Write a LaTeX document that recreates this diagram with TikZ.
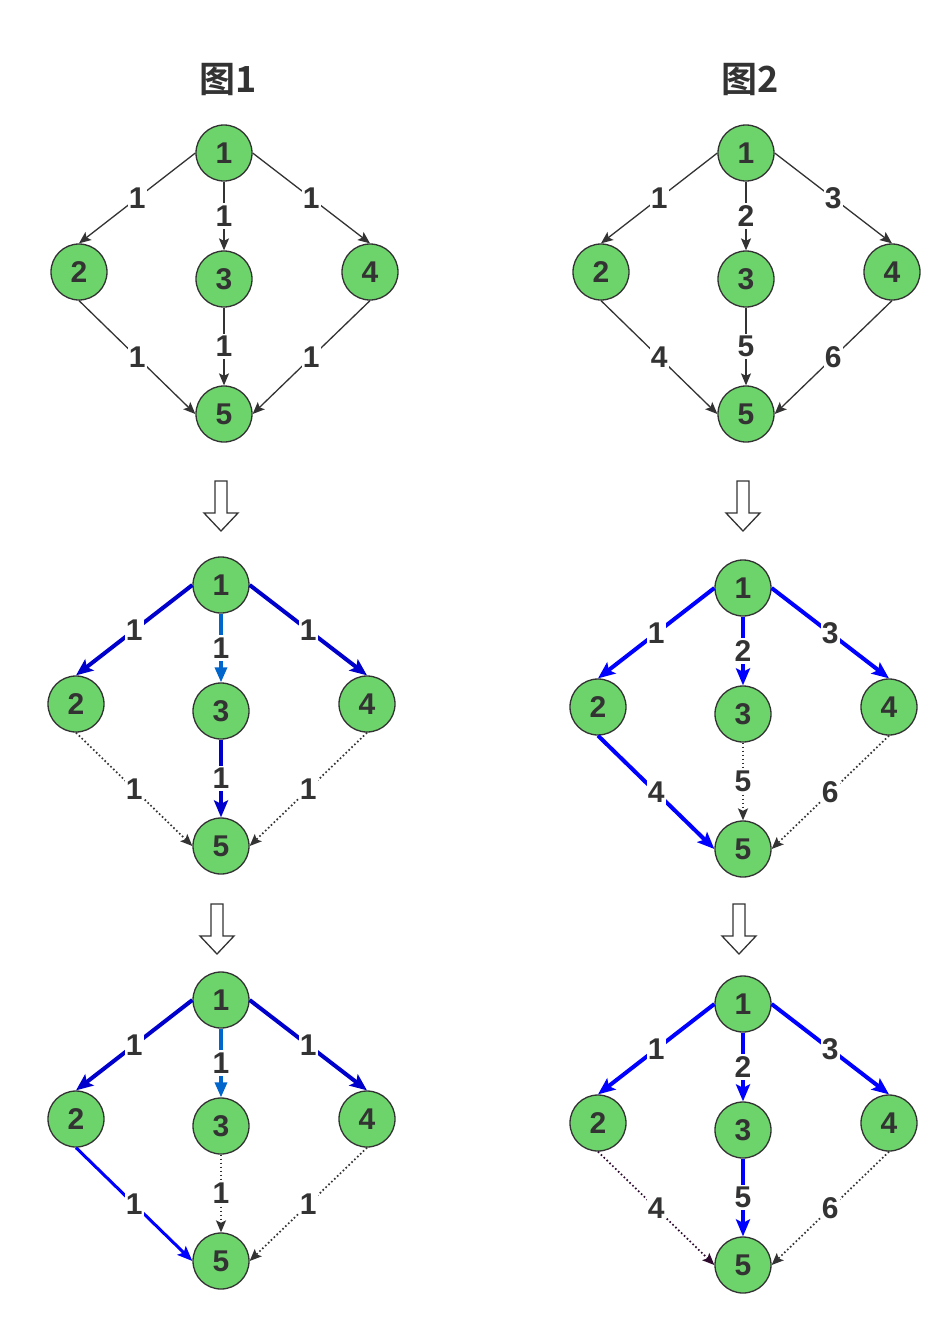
\documentclass[tikz,border=0pt]{standalone}
\usepackage{fontspec}
\setmainfont{Liberation Sans}
\newfontfamily\cjkb{Noto Sans CJK SC Bold}
\usetikzlibrary{arrows.meta}

\definecolor{ink}{HTML}{333333}
\definecolor{leaf}{HTML}{6CD46A}
\definecolor{navy}{HTML}{0000CC}
\definecolor{sky}{HTML}{0066CC}
\definecolor{pureblue}{HTML}{0000FF}
\definecolor{plum}{HTML}{2E0A2E}

\tikzset{
  vtx/.style={circle, draw=ink, line width=1.3pt, fill=leaf, minimum size=56pt,
    inner sep=0pt, text=ink, font=\fontsize{30}{30}\selectfont\bfseries},
  lbl/.style={midway, fill=white, inner xsep=1pt, inner ysep=2.5pt, text=ink,
    font=\fontsize{30}{30}\selectfont\bfseries},
  plainedge/.style={draw=ink, line width=1.3pt,
    -{Stealth[length=12pt, width=10pt, inset=2.5pt]}},
  dotedge/.style={plainedge, line width=1.7pt, dash pattern=on 1.6pt off 2.4pt},
  navyedge/.style={draw=navy, line width=4pt,
    -{Stealth[length=17pt, width=14pt, inset=3.5pt]}},
  skyedge/.style={draw=sky, line width=3.3pt,
    -{Stealth[length=15pt, width=12pt, inset=0pt]}},
  blueedge/.style={draw=pureblue, line width=4pt,
    -{Stealth[length=17pt, width=14pt, inset=3.5pt]}},
  midblueedge/.style={draw=pureblue, line width=3pt,
    -{Stealth[length=15pt, width=12pt, inset=3pt]}},
  title/.style={text=ink, font=\cjkb\fontsize{36}{36}\selectfont},
}

% five vertices of one graph, placed relative to vertex 1
\newcommand\fivevertices[3]{%
  \node[vtx] (#11) at (#2,#3) {1};
  \node[vtx] (#12) at ({#2-145},{#3+119}) {2};
  \node[vtx] (#13) at (#2,{#3+126}) {3};
  \node[vtx] (#14) at ({#2+146},{#3+119}) {4};
  \node[vtx] (#15) at (#2,{#3+261}) {5};
}

% hollow downward block arrow, given its centre x and top y
\newcommand\hollowdown[2]{%
  \draw[ink, line width=1.3pt, fill=white, line join=miter]
    ({#1-6},#2) -- ++(12,0) -- ++(0,32) -- ++(11,0) -- ++(-17,18)
    -- ++(-17,-18) -- ++(11,0) -- cycle;
}

\begin{document}
\begin{tikzpicture}[x=1pt, y=-1pt]
\useasboundingbox (0,0) rectangle (952,1326);
\fill[white] (0,0) rectangle (952,1326);

\node[title] (ta) at (228,80) {图1};
\node[title] (tb) at (750,80) {图2};

% ---- first row
\fivevertices{a}{224}{153}
\draw[plainedge] (a1.west)  -- node[lbl]{1} (a2.north);
\draw[plainedge] (a1.south) -- node[lbl]{1} (a3.north);
\draw[plainedge] (a1.east)  -- node[lbl]{1} (a4.north);
\draw[plainedge] (a2.south) -- node[lbl]{1} (a5.west);
\draw[plainedge] (a3.south) -- node[lbl]{1} (a5.north);
\draw[plainedge] (a4.south) -- node[lbl]{1} (a5.east);

\fivevertices{b}{746}{153}
\draw[plainedge] (b1.west)  -- node[lbl]{1} (b2.north);
\draw[plainedge] (b1.south) -- node[lbl]{2} (b3.north);
\draw[plainedge] (b1.east)  -- node[lbl]{3} (b4.north);
\draw[plainedge] (b2.south) -- node[lbl]{4} (b5.west);
\draw[plainedge] (b3.south) -- node[lbl]{5} (b5.north);
\draw[plainedge] (b4.south) -- node[lbl]{6} (b5.east);

\hollowdown{221}{481}
\hollowdown{743}{481}

% ---- second row
\fivevertices{c}{221}{585}
\draw[navyedge] (c1.west)  -- node[lbl]{1} (c2.north);
\draw[skyedge]  (c1.south) -- node[lbl]{1} (c3.north);
\draw[navyedge] (c1.east)  -- node[lbl]{1} (c4.north);
\draw[dotedge]  (c2.south) -- node[lbl]{1} (c5.west);
\draw[navyedge] (c3.south) -- node[lbl]{1} (c5.north);
\draw[dotedge]  (c4.south) -- node[lbl]{1} (c5.east);

\fivevertices{d}{743}{588}
\draw[blueedge] (d1.west)  -- node[lbl]{1} (d2.north);
\draw[blueedge] (d1.south) -- node[lbl]{2} (d3.north);
\draw[blueedge] (d1.east)  -- node[lbl]{3} (d4.north);
\draw[blueedge] (d2.south) -- node[lbl]{4} (d5.west);
\draw[dotedge]  (d3.south) -- node[lbl]{5} (d5.north);
\draw[dotedge]  (d4.south) -- node[lbl]{6} (d5.east);

\hollowdown{217}{904}
\hollowdown{739}{904}

% ---- third row
\fivevertices{e}{221}{1000}
\draw[navyedge]    (e1.west)  -- node[lbl]{1} (e2.north);
\draw[skyedge]     (e1.south) -- node[lbl]{1} (e3.north);
\draw[navyedge]    (e1.east)  -- node[lbl]{1} (e4.north);
\draw[midblueedge] (e2.south) -- node[lbl]{1} (e5.west);
\draw[dotedge]     (e3.south) -- node[lbl]{1} (e5.north);
\draw[dotedge]     (e4.south) -- node[lbl]{1} (e5.east);

\fivevertices{f}{743}{1004}
\draw[blueedge] (f1.west)  -- node[lbl]{1} (f2.north);
\draw[blueedge] (f1.south) -- node[lbl]{2} (f3.north);
\draw[blueedge] (f1.east)  -- node[lbl]{3} (f4.north);
\draw[dotedge, draw=plum] (f2.south) -- node[lbl]{4} (f5.west);
\draw[blueedge] (f3.south) -- node[lbl]{5} (f5.north);
\draw[dotedge]  (f4.south) -- node[lbl]{6} (f5.east);
\end{tikzpicture}
\end{document}
